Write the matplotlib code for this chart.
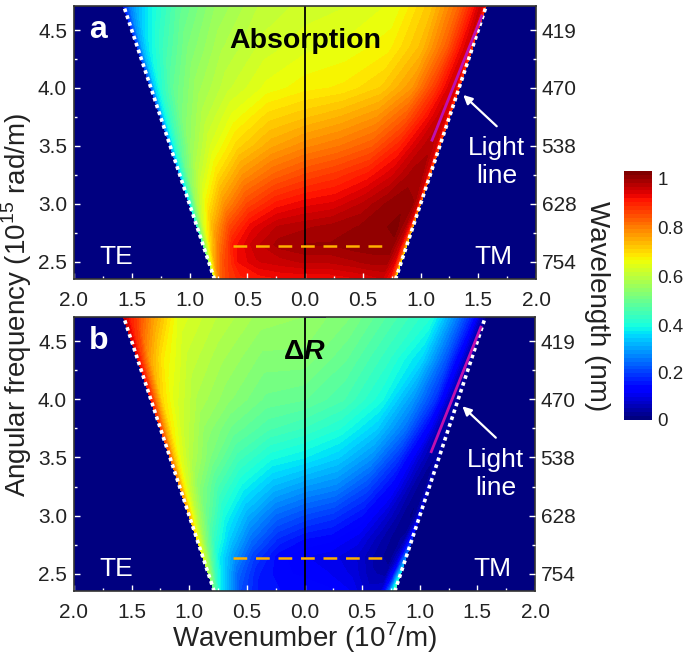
import numpy as np
import matplotlib.pyplot as plt
import matplotlib as mpl

plt.rcParams['font.family'] = ['Liberation Sans', 'DejaVu Sans']
plt.rcParams['mathtext.fontset'] = 'custom'
plt.rcParams['mathtext.rm'] = 'Liberation Sans'
plt.rcParams['mathtext.bf'] = 'Liberation Sans:bold'
plt.rcParams['mathtext.bfit'] = 'Liberation Sans:italic:bold'

# sin(theta) = k/k0 across the cone, and angular frequency (1e15 rad/m)
frac = [0, .25, .5, .7, .85, .93, .97, 1.0]
omega = [2.35, 2.5, 2.65, 2.8, 3.0, 3.25, 3.5, 3.75, 4.0, 4.35, 4.7]

abs_te = [[.89, .89, .88, .87, .84, .80, .73, .60],
          [.94, .93, .92, .89, .82, .74, .64, .50],
          [.97, .96, .93, .88, .77, .67, .56, .42],
          [.95, .94, .90, .83, .72, .62, .52, .38],
          [.90, .88, .83, .75, .65, .56, .46, .32],
          [.83, .80, .75, .67, .58, .50, .42, .28],
          [.76, .73, .68, .61, .53, .45, .38, .25],
          [.70, .68, .63, .57, .50, .42, .36, .22],
          [.65, .63, .59, .54, .47, .40, .34, .20],
          [.62, .60, .56, .50, .42, .36, .30, .18],
          [.60, .58, .53, .46, .37, .30, .24, .15]]

abs_tm = [[.89, .89, .90, .91, .92, .89, .82, .60],
          [.94, .94, .95, .96, .96, .91, .83, .62],
          [.97, .97, .98, .98, .98, .93, .83, .65],
          [.95, .96, .97, .98, .99, .95, .88, .70],
          [.90, .91, .94, .97, .98, .97, .93, .75],
          [.83, .85, .88, .92, .96, .96, .92, .78],
          [.76, .78, .81, .87, .93, .95, .92, .82],
          [.70, .72, .75, .81, .89, .93, .92, .84],
          [.65, .66, .69, .75, .85, .91, .92, .85],
          [.62, .63, .65, .71, .81, .89, .92, .85],
          [.60, .61, .63, .70, .80, .88, .93, .85]]

dr_te = [[.14, .14, .15, .20, .30, .36, .42, .46],
         [.12, .13, .16, .23, .34, .42, .50, .55],
         [.11, .13, .19, .28, .37, .48, .56, .62],
         [.14, .17, .24, .33, .42, .52, .59, .66],
         [.20, .23, .30, .38, .48, .56, .63, .72],
         [.28, .31, .37, .44, .52, .60, .66, .76],
         [.36, .38, .43, .50, .57, .63, .70, .80],
         [.42, .44, .48, .53, .60, .66, .74, .84],
         [.47, .48, .52, .56, .62, .68, .78, .88],
         [.51, .51, .55, .59, .66, .74, .83, .91],
         [.53, .54, .58, .62, .75, .84, .88, .93]]

dr_tm = [[.14, .13, .11, .07, .08, .22, .35, .45],
         [.12, .11, .09, .05, .04, .14, .27, .36],
         [.11, .10, .08, .04, .02, .08, .18, .25],
         [.14, .13, .10, .05, .02, .04, .10, .16],
         [.20, .18, .14, .08, .03, .01, .04, .10],
         [.28, .26, .20, .13, .05, .02, .03, .07],
         [.36, .33, .27, .18, .08, .04, .03, .05],
         [.42, .39, .33, .24, .13, .05, .03, .04],
         [.47, .44, .38, .28, .18, .08, .04, .03],
         [.51, .47, .41, .34, .21, .11, .05, .03],
         [.53, .50, .44, .39, .24, .15, .07, .03]]

x_ticks = [-2, -1.5, -1, -.5, 0, .5, 1, 1.5, 2]
x_labels = ['2.0', '1.5', '1.0', '0.5', '0.0', '0.5', '1.0', '1.5', '2.0']
y_ticks = [2.5, 3.0, 3.5, 4.0, 4.5]
y_labels = ['2.5', '3.0', '3.5', '4.0', '4.5']
nm_labels = ['754', '628', '538', '470', '419']
bar_ticks = [0, .19, .38, .578, .775, .97]
bar_labels = ['0', '0.2', '0.4', '0.6', '0.8', '1']

light_w = [2.35, 4.7]
light_k = [0.784, 1.567]
mode_k = [-0.62, 0.70]
mode_w = [2.635, 2.635]
purple_k = [1.10, 1.53]
purple_w = [3.55, 4.62]

W, H = 685, 655
NAVY = '#000080'
INK = '#222222'
cmap = plt.get_cmap('jet', 64)
levels = np.linspace(0, 1, 65)
fs = 15


def add_ax(x0, y0, x1, y1):
    # pixel box measured from the top left of the picture
    return fig.add_axes([x0 / W, 1 - y1 / H, (x1 - x0) / W, (y1 - y0) / H])


def panel(ax, left, right, letter, title):
    u = np.array(frac)
    w = np.array(omega)
    U, Om = np.meshgrid(u, w)
    ax.set_facecolor(NAVY)
    ax.contourf(-U * Om / 2.998, Om, np.array(left), levels=levels, cmap=cmap, vmin=0, vmax=1)
    ax.contourf(U * Om / 2.998, Om, np.array(right), levels=levels, cmap=cmap, vmin=0, vmax=1)
    ax.axvline(0, color='k', lw=1.3)
    ax.plot(light_k, light_w, color='w', ls=(0, (1, 1)), lw=2.6)
    ax.plot(-np.array(light_k), light_w, color='w', ls=(0, (1, 1)), lw=2.6)
    ax.plot(mode_k, mode_w, color='#ffb000', ls=(0, (5.5, 3.5)), lw=1.8)
    ax.plot(purple_k, purple_w, color='#c010b0', lw=2)
    ax.set_xlim(-2, 2)
    ax.set_ylim(2.353, 4.707)
    ax.set_xticks(x_ticks, x_labels)
    ax.set_yticks(y_ticks, y_labels)
    ax.set_xticks(np.arange(-1.75, 2, .5), minor=True)
    ax.set_yticks(np.arange(2.75, 4.7, .5), minor=True)
    ax.tick_params(which='major', direction='in', length=4, width=1, color='w', labelsize=fs, labelcolor=INK)
    ax.tick_params(which='minor', direction='in', length=2, width=1, color='w')
    ax.tick_params(axis='x', which='major', pad=9)
    ax.tick_params(axis='y', which='major', pad=5)
    for s in ax.spines.values():
        s.set_linewidth(1.2)
        s.set_color('#333333')

    ax2 = ax.twinx()
    ax2.set_ylim(ax.get_ylim())
    ax2.set_yticks(y_ticks, nm_labels)
    ax2.set_yticks(np.arange(2.75, 4.7, .5), minor=True)
    ax2.tick_params(which='major', direction='in', length=4, width=1, color='w', labelsize=fs, pad=4, labelcolor=INK)
    ax2.tick_params(which='minor', direction='in', length=2, width=1, color='w')
    for s in ax2.spines.values():
        s.set_visible(False)

    ax.text(-1.79, 4.5, letter, color='w', fontsize=23, fontweight='bold', ha='center', va='center')
    ax.text(0, 4.405, title, color='k', fontsize=20.5, fontweight='bold', ha='center', va='center')
    ax.text(-1.63, 2.54, 'TE', color='w', fontsize=19, ha='center', va='center')
    ax.text(1.63, 2.54, 'TM', color='w', fontsize=19, ha='center', va='center')
    ax.text(1.66, 3.36, 'Light\nline', color='w', fontsize=19, ha='center', va='center', linespacing=1.2)
    ax.annotate('', xy=(1.37, 3.94), xytext=(1.66, 3.67),
                arrowprops=dict(arrowstyle='-|>', color='w', lw=1.6, mutation_scale=13, shrinkA=0, shrinkB=0))


fig = plt.figure(figsize=(W / 100, H / 100), dpi=100)
ax_a = add_ax(74, 6, 536, 279)
ax_b = add_ax(74, 317, 535, 591)
panel(ax_a, abs_te, abs_tm, 'a', 'Absorption')
panel(ax_b, dr_te, dr_tm, 'b', r'$\mathbf{\Delta}\mathbfit{R}$')

fig.text(305 / W, 1 - 647 / H, r'Wavenumber (10$^{7}$/m)', fontsize=20, ha='center', va='baseline', color=INK)
fig.text(17 / W, 1 - 305 / H, r'Angular frequency (10$^{15}$ rad/m)', fontsize=20, rotation=90, ha='center', va='center', color=INK)
fig.text(597 / W, 1 - 306 / H, 'Wavelength (nm)', fontsize=20, rotation=-90, ha='center', va='center', color=INK)

cax = add_ax(624, 171, 652, 420)
sm = mpl.cm.ScalarMappable(norm=mpl.colors.Normalize(0, 1), cmap=cmap)
cb = fig.colorbar(sm, cax=cax, ticks=bar_ticks)
cb.ax.set_yticklabels(bar_labels)
cb.ax.tick_params(length=0, labelsize=13.5, pad=4, labelcolor=INK)
cb.outline.set_visible(False)

plt.savefig('out.png', dpi=100)
